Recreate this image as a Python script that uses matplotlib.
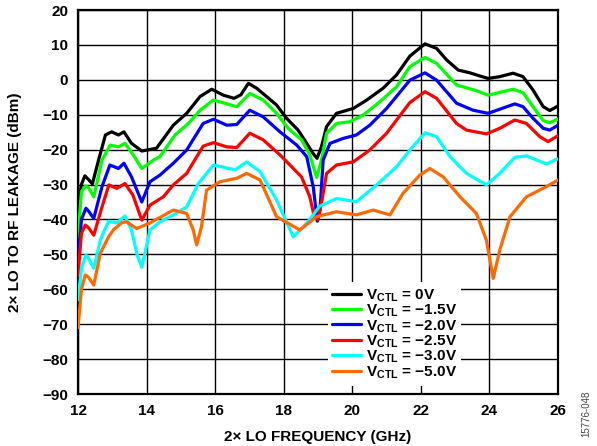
import matplotlib
matplotlib.use('Agg')
import matplotlib.pyplot as plt
from matplotlib.ticker import FuncFormatter

plt.rcParams['font.family'] = ['Liberation Sans', 'DejaVu Sans']
plt.rcParams['font.weight'] = 'bold'
plt.rcParams['mathtext.fontset'] = 'custom'
plt.rcParams['mathtext.rm'] = 'Liberation Sans:bold'
plt.rcParams['mathtext.bf'] = 'Liberation Sans:bold'

# ---------------- data ----------------
f_0v = [12.0, 12.1, 12.2, 12.3, 12.42, 12.6, 12.8, 12.98, 13.18, 13.34, 13.56, 13.86,
        14.29, 14.78, 15.17, 15.56, 15.9, 16.24, 16.55, 16.75, 16.97, 17.21, 17.5, 17.79,
        18.08, 18.42, 18.67, 18.85, 18.97, 19.1, 19.25, 19.54, 20.03, 20.42, 20.9, 21.29,
        21.68, 22.12, 22.46, 22.75, 23.09, 23.43, 23.72, 23.96, 24.3, 24.69, 24.98, 25.27,
        25.57, 25.76, 26.0]
db_0v = [-37, -30, -27.5, -28.5, -29.8, -23, -15.8, -14.9, -15.8, -14.9, -18.2, -20.4,
         -19.6, -13.0, -9.6, -4.8, -2.7, -4.4, -5.3, -4.3, -1.0, -2.4, -4.8, -7.2,
         -11.0, -14.4, -18.2, -21.0, -22.5, -19.2, -13.4, -9.6, -8.2, -5.8, -2.4, 1.4,
         6.8, 10.3, 9.0, 5.7, 2.8, 2.0, 1.1, 0.4, 0.9, 1.9, 0.9, -2.9,
         -7.7, -8.8, -7.5]

f_15v = [12.0, 12.1, 12.22, 12.3, 12.46, 12.7, 12.94, 13.18, 13.37, 13.61, 13.86, 14.2,
         14.39, 14.83, 15.22, 15.56, 15.95, 16.34, 16.63, 17.01, 17.4, 17.79, 18.13, 18.52,
         18.76, 18.96, 19.1, 19.25, 19.54, 19.93, 20.32, 20.8, 21.29, 21.68, 22.12, 22.46,
         23.04, 23.62, 23.96, 24.69, 24.98, 25.27, 25.57, 25.76, 26.0]
db_15v = [-45, -32, -30.4, -30.8, -33.5, -23, -18.7, -19.2, -18.2, -21.5, -25.4, -23,
          -22, -15.8, -12.5, -8.7, -5.8, -6.9, -7.7, -3.9, -5.8, -9.6, -13.9, -17.2,
          -21.5, -28, -23, -15.3, -12.5, -12.0, -10.1, -6.3, -2.0, 3.8, 6.4, 4.7,
          -1.5, -3.1, -4.4, -2.7, -3.7, -7.7, -11.7, -12.3, -11.2]

f_20v = [12.0, 12.1, 12.23, 12.3, 12.46, 12.7, 12.93, 13.18, 13.34, 13.56, 13.86, 14.1,
         14.39, 14.78, 15.17, 15.65, 15.95, 16.34, 16.63, 17.01, 17.4, 17.89, 18.38, 18.67,
         18.86, 18.98, 19.06, 19.15, 19.35, 19.73, 20.12, 20.51, 21.0, 21.68, 22.12, 22.46,
         23.04, 23.52, 23.96, 24.74, 24.98, 25.27, 25.57, 25.76, 26.0]
db_20v = [-52, -40, -36.8, -37.5, -39.7, -30.6, -24.4, -25.4, -23.9, -27.8, -35, -29.2,
          -27.3, -23.9, -20.1, -12.5, -11.3, -13.0, -12.8, -8.7, -10.6, -14.9, -18.7, -22.0,
          -30.6, -40.5, -37, -23, -18.2, -16.8, -15.8, -13, -8.2, -0.1, 2.0, -0.1,
          -6.7, -8.7, -9.6, -6.9, -7.7, -11.0, -13.9, -14.4, -13.0]

f_25v = [12.0, 12.1, 12.21, 12.3, 12.46, 12.7, 12.9, 13.13, 13.37, 13.6, 13.86, 14.1,
         14.49, 14.78, 15.17, 15.65, 15.95, 16.34, 16.63, 17.01, 17.4, 17.89, 18.28, 18.52,
         18.76, 18.9, 19.0, 19.1, 19.25, 19.54, 20.03, 20.51, 21.0, 21.68, 22.12, 22.46,
         23.04, 23.33, 23.91, 24.3, 24.74, 25.08, 25.47, 25.71, 26.0]
db_25v = [-56, -44, -41.6, -42.3, -44.5, -36.4, -30.1, -31.1, -29.7, -33, -40.2, -35.9,
          -33.5, -30.1, -26.8, -19, -18.0, -19.2, -19.4, -15.3, -17.2, -21.5, -25.4, -27.8,
          -33.5, -39.6, -40, -35.4, -26.8, -24.4, -23.5, -20.1, -15.3, -6.5, -3.4, -5.3,
          -12.5, -14.4, -15.5, -13.9, -11.5, -12.5, -16.3, -17.7, -16.0]

f_30v = [12.0, 12.1, 12.23, 12.3, 12.46, 12.65, 12.89, 13.13, 13.37, 13.56, 13.72, 13.86,
         14.1, 14.39, 14.78, 15.17, 15.51, 15.95, 16.58, 16.92, 17.31, 17.79, 18.28, 18.67,
         19.05, 19.54, 20.12, 20.71, 21.29, 21.68, 22.12, 22.46, 22.85, 23.33, 23.91, 24.3,
         24.74, 25.08, 25.66, 26.0]
db_30v = [-63, -54, -50.2, -51, -54, -45.9, -40.5, -41, -39, -43, -50, -53.7,
          -43, -40.7, -38.7, -36.4, -29.7, -24.4, -25.8, -23.5, -26.3, -34.4, -45.0, -41.1,
          -36.2, -34, -34.9, -30.1, -24.9, -20.1, -15.2, -16.3, -22, -26.8, -30.1, -26.8,
          -22.2, -21.8, -24.1, -22.6]

f_50v = [12.0, 12.1, 12.21, 12.3, 12.46, 12.65, 12.89, 13.03, 13.28, 13.42, 13.71, 14.1,
         14.78, 15.17, 15.36, 15.46, 15.6, 15.75, 16.14, 16.63, 16.92, 17.31, 17.79, 18.47,
         18.96, 19.54, 20.12, 20.61, 21.1, 21.48, 21.97, 22.26, 22.65, 23.14, 23.62, 23.91,
         24.11, 24.3, 24.6, 25.08, 25.66, 26.0]
db_50v = [-71, -60, -55.9, -56.5, -58.8, -49.7, -45, -43, -40.9, -40.7, -42.6, -41,
          -37.3, -38.3, -43, -47.3, -42.1, -31.6, -29.2, -28.2, -26.8, -28.7, -39.2, -43,
          -39.2, -37.8, -38.7, -37.3, -38.7, -32.5, -27.3, -25.4, -27.8, -33.5, -38.3, -45.9,
          -56.9, -48.8, -39.2, -33.5, -30.6, -28.7]

labels = ['0V', '\u22121.5V', '\u22122.0V', '\u22122.5V', '\u22123.0V', '\u22125.0V']
colors = ['#000000', '#00FF00', '#0000FF', '#FF0000', '#00FFFF', '#FF6A00']
freqs = [f_0v, f_15v, f_20v, f_25v, f_30v, f_50v]
levels = [db_0v, db_15v, db_20v, db_25v, db_30v, db_50v]

# ---------------- figure ----------------
fig = plt.figure(figsize=(5.97, 4.46), dpi=100)
ax = fig.add_axes([78 / 597, 1 - 394 / 446, 480 / 597, 384 / 446])

for f, d, lab, c in zip(freqs, levels, labels, colors):
    ax.plot(f, d, color=c, lw=2.3, solid_joinstyle='round', solid_capstyle='round',
            label='V$_{\\mathrm{CTL}}$ = ' + lab, zorder=3)

ax.set_xlim(12, 26)
ax.set_ylim(-90, 20)
ax.set_xticks(range(12, 27, 2))
ax.set_yticks(range(-90, 21, 10))
ax.yaxis.set_major_formatter(FuncFormatter(lambda v, p: ('%d' % v).replace('-', '\u2212')))
ax.grid(True, color='black', lw=1.0)
ax.set_axisbelow(True)
ax.tick_params(length=0, labelsize=11, pad=7)
for lbl in ax.get_xticklabels() + ax.get_yticklabels():
    lbl.set_fontweight('bold')
for s in ax.spines.values():
    s.set_linewidth(1.6)

ax.set_xlabel('2\u00d7 LO FREQUENCY (GHz)', fontsize=11, fontweight='bold', labelpad=9)
ax.set_ylabel('2\u00d7 LO TO RF LEAKAGE (dBm)', fontsize=11, fontweight='bold', labelpad=15)

leg = ax.legend(loc='lower left', bbox_to_anchor=(0.52, 0.022), borderaxespad=0,
                frameon=True, fancybox=False, framealpha=1,
                handlelength=1.9, handletextpad=0.3, labelspacing=-0.08,
                borderpad=0.3, prop={'weight': 'bold', 'size': 11})
leg.get_frame().set_edgecolor('white')
leg.get_frame().set_linewidth(0)
for line in leg.get_lines():
    line.set_linewidth(2.3)

fig.text(0.982, 0.02, '15776-048', rotation=90, fontsize=7, fontweight='normal',
         color='#444444', ha='center', va='bottom')

fig.savefig('out.png', dpi=100)
